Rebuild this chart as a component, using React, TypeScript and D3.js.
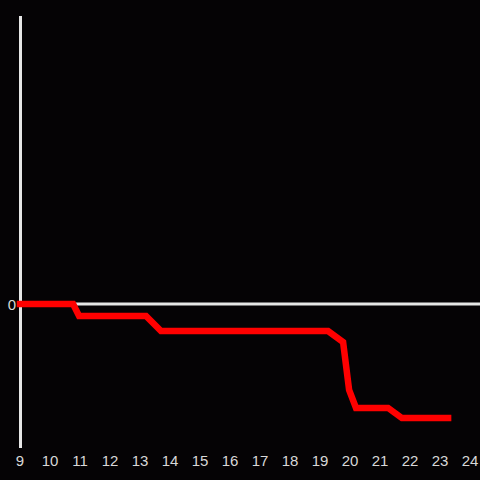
import React from "react";
import * as d3 from "d3";

const hours = [9, 10.77, 10.97, 13.2, 13.7, 19.27, 19.77, 19.97, 20.2, 21.27, 21.73, 23.27];
const values = [0, 0, -0.083, -0.083, -0.188, -0.188, -0.264, -0.597, -0.722, -0.722, -0.792, -0.792];
const xTicks = [9, 10, 11, 12, 13, 14, 15, 16, 17, 18, 19, 20, 21, 22, 23, 24];
const yTicks = [0];

const W = 480;
const H = 480;

export default function App() {
  const x = d3.scaleLinear().domain([9, 24]).range([20, 470]);
  const y = d3.scaleLinear().domain([-1, 2]).range([448, 16]);
  const pts: [number, number][] = hours.map((h, i) => [x(h), y(values[i])]);
  const line = d3.line<[number, number]>().x((d) => d[0]).y((d) => d[1]);
  return (
    <svg
      width={W}
      height={H}
      style={{ position: "absolute", left: 0, top: 0, background: "#050305" }}
    >
      <rect x={0} y={0} width={W} height={H} fill="#050305" />
      <line x1={20} x2={W} y1={y(0)} y2={y(0)} stroke="#e6e6e6" strokeWidth={3} />
      <line x1={20.5} x2={20.5} y1={16} y2={448} stroke="#e6e6e6" strokeWidth={3} />
      <path
        d={line(pts) || ""}
        fill="none"
        stroke="#ff0000"
        strokeWidth={6.5}
        strokeLinecap="square"
        strokeLinejoin="miter"
      />
      {xTicks.map((t) => (
        <text
          key={t}
          x={x(t)}
          y={466}
          textAnchor="middle"
          fill="#d8d8d8"
          fontFamily="Liberation Sans, Arial, sans-serif"
          fontSize={15}
        >
          {t}
        </text>
      ))}
      {yTicks.map((t) => (
        <text
          key={t}
          x={16}
          y={y(t) + 6}
          textAnchor="end"
          fill="#d8d8d8"
          fontFamily="Liberation Sans, Arial, sans-serif"
          fontSize={15}
        >
          {t}
        </text>
      ))}
    </svg>
  );
}
